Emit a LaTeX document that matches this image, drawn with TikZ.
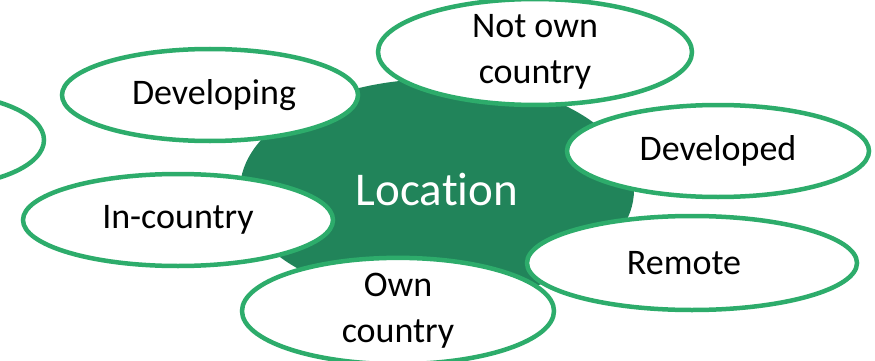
\documentclass[tikz,border=0pt]{standalone}
\usepackage{fontspec}
\setmainfont[Ligatures=NoCommon]{Carlito}
\usetikzlibrary{shapes.geometric}

\definecolor{hubgreen}{HTML}{21845A}
\definecolor{rimgreen}{HTML}{2DAC6B}

\tikzset{
    hub/.style={ellipse, fill=hubgreen, text=white, inner sep=0pt, font=\fontsize{47}{56}\selectfont},
    leaf/.style={ellipse, draw=rimgreen, line width=4.5pt, fill=white, inner sep=0pt, align=center, font=\fontsize{36}{46}\selectfont}
}

\begin{document}
\begin{tikzpicture}[x=1pt, y=-1pt]
                    \useasboundingbox (0,0) rectangle (875,361);
                    \clip (0,0) rectangle (875,361);
                    
                    \node [hub, minimum width=394pt, minimum height=222pt] (location) at (437,190) {Location};
                    
                    \node [leaf, minimum width=212pt, minimum height=92pt] (hidden) at (-62,140) {};
                    \node [leaf, minimum width=296pt, minimum height=92pt] (developing) at (210,95) {\hspace{8pt}Developing};
                    \node [leaf, minimum width=314pt, minimum height=92pt] (notown) at (535,52) {Not own\\country};
                    \node [leaf, minimum width=302pt, minimum height=92pt] (developed) at (718,151) {Developed};
                    \node [leaf, minimum width=310pt, minimum height=92pt] (incountry) at (178,220) {In-country};
                    \node [leaf, minimum width=330pt, minimum height=94pt] (remote) at (692,263) {Remote\hspace{16pt}};
                    \node [leaf, minimum width=312pt, minimum height=92pt] (owncountry) at (398,311) {Own\\country};
                \end{tikzpicture}
\end{document}
